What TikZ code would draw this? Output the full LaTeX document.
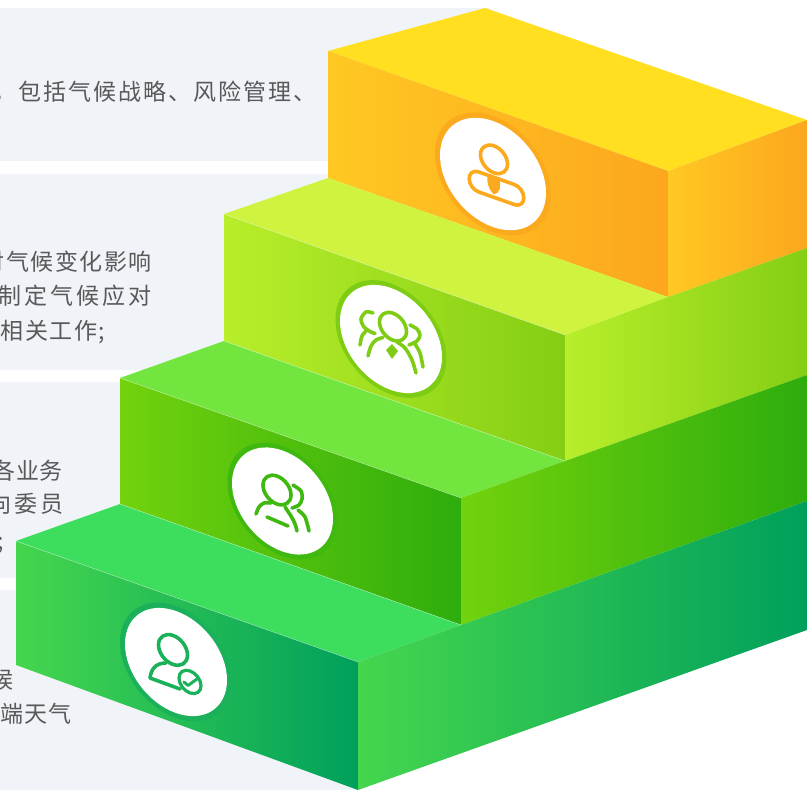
\documentclass[tikz,border=0pt]{standalone}
\usepackage{fontspec}
\setmainfont{Noto Sans CJK SC}
\definecolor{panel}{HTML}{F0F3F8}
\definecolor{txt}{HTML}{595959}
\definecolor{yA}{HTML}{FFC822}\definecolor{yB}{HTML}{FCA71E}\definecolor{yT}{HTML}{FFDF20}\definecolor{yR}{HTML}{FBA91D}
\definecolor{lA}{HTML}{B8EE2A}\definecolor{lB}{HTML}{84CE14}\definecolor{lT}{HTML}{CFF33F}\definecolor{lR}{HTML}{7FCC14}
\definecolor{gA}{HTML}{72D20D}\definecolor{gB}{HTML}{2EAD0D}\definecolor{gT}{HTML}{72E63E}\definecolor{gR}{HTML}{3FB80F}
\definecolor{dA}{HTML}{45D64E}\definecolor{dB}{HTML}{00A05C}\definecolor{dT}{HTML}{3DDD5E}\definecolor{dR}{HTML}{1BB15B}
\tikzset{
  panelbox/.style={fill=panel,draw=none},
  label/.style={anchor=base west,inner sep=0pt,text=txt,font=\fontsize{23}{23}\selectfont},
  faceY/.style={left color=yA,right color=yB},
  faceL/.style={left color=lA,right color=lB},
  faceG/.style={left color=gA,right color=gB},
  faceD/.style={left color=dA,right color=dB},
  edgeline/.style={draw=white,draw opacity=.45,line width=.5pt},
  icon/.style={line width=3.6pt,line cap=round,line join=round,fill=none},
}
\newcommand{\spaced}[2]{{\addfontfeature{LetterSpace=#1}#2}}
\newcommand{\badge}[5]{% cx cy colour rwhite rring
  \begin{scope}[cm={1,-0.353,0,1,(#1,#2)}]
    \fill[#3] (0,0) circle [radius=#5pt];
    \fill[white] (0,0) circle [radius=#4pt];
  \end{scope}}
\begin{document}
\begin{tikzpicture}[x=1pt,y=-1pt]
\useasboundingbox (0,0) rectangle (807,790);
\clip (0,0) rectangle (807,790);
% panels
\fill[panelbox] (0,8) rectangle (490,161);
\fill[panelbox] (0,174) rectangle (335,370);
\fill[panelbox] (0,382) rectangle (130,578);
\fill[panelbox] (0,590) rectangle (360,790);
% texts
\node[label] (t1) at (-6.5,100) {\spaced{8.7}{，包括气候战略、风险管理、}};
\node[label] (t2) at (-18.5,270) {\spaced{6.5}{对气候变化影响}};
\node[label] (t3) at (-2,304) {\spaced{13}{制定气候应对}};
\node[label] (t4) at (0.5,339) {\spaced{6.5}{相关工作;}};
\node[label] (t5) at (-7.5,479) {\spaced{2.2}{各业务}};
\node[label] (t6) at (-12,512.5) {\spaced{14.8}{向委员}};
\node[label] (t7) at (-3,549) {;};
\node[label] (t8) at (-10,688) {候};
\node[label] (t9) at (0,722) {\spaced{5.2}{端天气}};
% yellow step
\fill[yT] (328,51) -- (485,8) -- (807,120) -- (668,171) -- cycle;
\shade[faceY] (328,51) -- (668,171) -- (668,297) -- (328,178) -- cycle;
\shade[faceY] (668,171) -- (807,120) -- (807,248) -- (668,297) -- cycle;
% lime step
\fill[lT] (224,214) -- (328,178) -- (668,297) -- (565,335) -- cycle;
\shade[faceL] (224,214) -- (565,335) -- (565,461) -- (224,341) -- cycle;
\shade[faceL] (565,335) -- (668,297) -- (807,248) -- (807,375) -- (565,461) -- cycle;
% green step
\fill[gT] (120,378) -- (224,341) -- (565,461) -- (461,498) -- cycle;
\shade[faceG] (120,378) -- (461,498) -- (461,625) -- (120,504) -- cycle;
\shade[faceG] (461,498) -- (565,461) -- (807,375) -- (807,501) -- (461,625) -- cycle;
% dark green step
\fill[dT] (16,541) -- (120,504) -- (461,625) -- (358,662) -- cycle;
\shade[faceD] (16,541) -- (358,662) -- (358,790) -- (16,665) -- cycle;
\shade[faceD] (358,662) -- (461,625) -- (807,501) -- (807,630) -- (358,790) -- cycle;
% fine light edges
\draw[edgeline] (224,214) -- (565,335);
\draw[edgeline] (224,341) -- (565,461);
\draw[edgeline] (120,378) -- (461,498);
\draw[edgeline] (120,504) -- (461,625);
\draw[edgeline] (16,541) -- (358,662);
% yellow badge
\badge{493}{174}{yR}{53}{58}
\begin{scope}[cm={1,-0.353,0,1,(493,174)}]
  \draw[icon,yR] (-14,3) -- (21,3) .. controls (34,3) and (34,23) .. (21,23) -- (-14,23) .. controls (-27,23) and (-27,3) .. (-14,3) -- cycle;
  \fill[yR] (-5,2) -- (6,2) .. controls (9,10) and (6,18) .. (1,20) .. controls (-4,18) and (-7,10) .. (-5,2) -- cycle;
  \draw[line width=3.6pt,yR,fill=white] (1,-15) circle [radius=13.5pt];
\end{scope}
% lime badge
\badge{391}{339}{lR}{51}{55.5}
\begin{scope}[cm={1,-0.353,0,1,(391,339)}]
  \draw[icon,lR] (2,-13) circle [radius=13.5pt];
\end{scope}
\draw[icon,lR] plot[smooth] coordinates {(368,356) (371,346) (376,340) (383,337.5)};
\draw[icon,lR] plot[smooth] coordinates {(397,342) (405,348) (412,360) (416,373)};
\draw[icon,lR] plot[smooth] coordinates {(373,313) (366,312) (361,319) (364,327) (371,332) (375,333.5)};
\draw[icon,lR] plot[smooth] coordinates {(367,330) (362,336) (360,345)};
\draw[icon,lR] plot[smooth] coordinates {(410,325) (417,329) (420,335) (417,341) (409,345)};
\draw[icon,lR] plot[smooth] coordinates {(415,344) (420,353) (423,367)};
\fill[lR] (386,350) -- (392,344) -- (398,351) -- (392,359) -- cycle;
% green badge
\badge{282.5}{501}{gR}{50.5}{55}
\begin{scope}[cm={1,-0.353,0,1,(282.5,501)}]
  \draw[icon,gR] (-5.5,-9) circle [radius=14pt];
\end{scope}
\draw[icon,gR] plot[smooth] coordinates {(256,514) (259,507) (264,503) (271,503)};
\draw[icon,gR] plot[smooth] coordinates {(285,507) (291,516) (295,524) (297,531)};
\draw[icon,gR] plot[smooth] coordinates {(293,485) (301,491) (302,499) (299,505) (292,508)};
\draw[icon,gR] plot[smooth] coordinates {(298,510) (305,517) (309,531)};
\draw[icon,gR] (267,517) -- (288,526);
% dark green badge
\badge{176}{662}{dR}{51}{56}
\begin{scope}[cm={1,-0.353,0,1,(176,662)}]
  \draw[icon,dR] (-3,-11) circle [radius=14.5pt];
  \draw[line width=3.2pt,dR] (14,15) circle [radius=11pt];
\end{scope}
\draw[icon,dR] (180,689) -- (150,678) .. controls (151,670) and (155,663) .. (166,663);
\draw[line width=3pt,dR,line cap=round,line join=round] (184,682) -- (188,685.5) -- (197,679);
\end{tikzpicture}
\end{document}
